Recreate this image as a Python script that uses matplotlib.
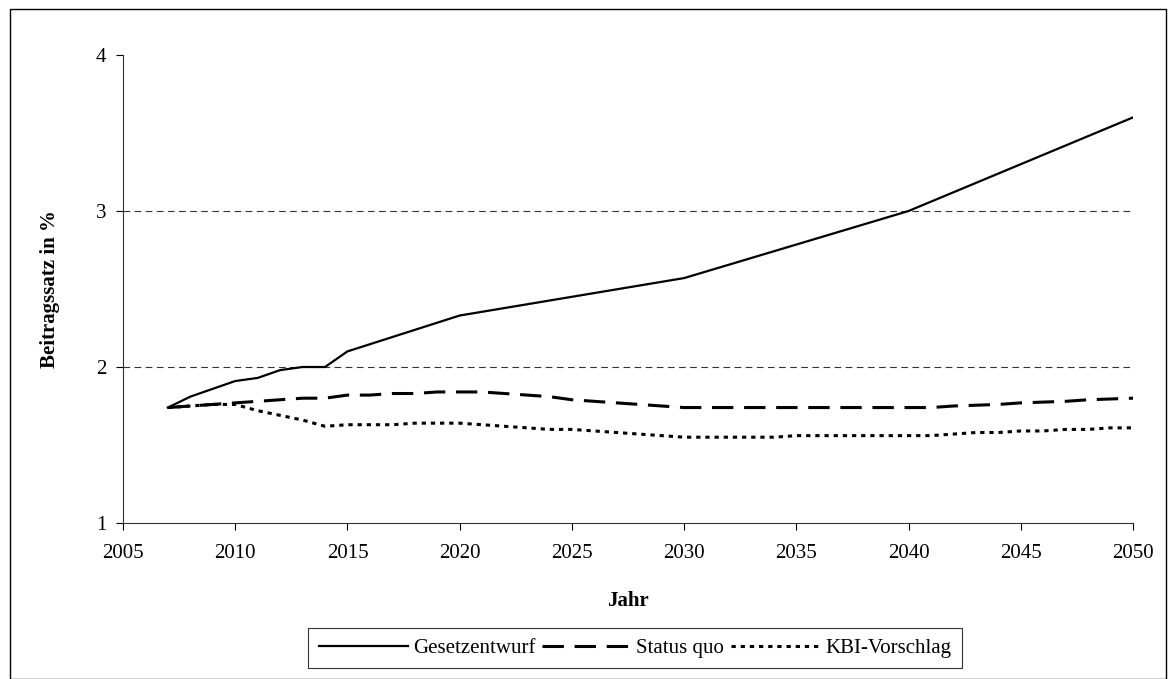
import matplotlib
matplotlib.use("Agg")
import matplotlib.pyplot as plt
from matplotlib.patches import Rectangle

# Data
years_gesetz = [2007, 2008, 2009, 2010, 2011, 2012, 2013, 2014, 2015, 2020, 2030, 2040, 2050]
gesetzentwurf = [1.74, 1.81, 1.86, 1.91, 1.93, 1.98, 2.00, 2.00, 2.10, 2.33, 2.57, 3.00, 3.60]

years = list(range(2007, 2051))
status_quo = [1.74, 1.75, 1.76, 1.77, 1.78, 1.79, 1.80, 1.80, 1.82, 1.82,
              1.83, 1.83, 1.84, 1.84, 1.84, 1.83, 1.82, 1.81, 1.79, 1.78,
              1.77, 1.76, 1.75, 1.74, 1.74, 1.74, 1.74, 1.74, 1.74, 1.74,
              1.74, 1.74, 1.74, 1.74, 1.74, 1.75, 1.755, 1.76, 1.77, 1.775,
              1.78, 1.79, 1.795, 1.80]
kbi = [1.74, 1.75, 1.76, 1.76, 1.72, 1.69, 1.66, 1.62, 1.63, 1.63,
       1.63, 1.64, 1.64, 1.64, 1.63, 1.62, 1.61, 1.60, 1.60, 1.59,
       1.58, 1.57, 1.56, 1.55, 1.55, 1.55, 1.55, 1.55, 1.56, 1.56,
       1.56, 1.56, 1.56, 1.56, 1.56, 1.57, 1.58, 1.58, 1.59, 1.59,
       1.60, 1.60, 1.61, 1.61]

x_ticks = list(range(2005, 2051, 5))
y_ticks = [1, 2, 3, 4]

plt.rcParams['font.family'] = ['Liberation Serif', 'DejaVu Serif']

fig = plt.figure(figsize=(11.76, 6.79), dpi=100)
L, R, T, B = 123, 1133, 55, 523
ax = fig.add_axes([L/1176, 1-B/679, (R-L)/1176, (B-T)/679])

ax.plot(years_gesetz, gesetzentwurf, color='black', lw=1.6, label='Gesetzentwurf')
ax.plot(years, status_quo, color='black', lw=2.2, dashes=(7, 3.5), label='Status quo')
ax.plot(years, kbi, color='black', lw=2.2, dashes=(1.4, 1.6), label='KBI-Vorschlag')

for v in [2, 3]:
    ax.axhline(v, color='#333333', lw=0.8, dashes=(6, 4), zorder=0)

ax.set_xlim(2005, 2050)
ax.set_ylim(1, 4)
ax.set_xticks(x_ticks)
ax.set_yticks(y_ticks)
ax.tick_params(direction='out', length=5, width=0.8, labelsize=15, colors='black')
ax.tick_params(axis='x', pad=10)
ax.tick_params(axis='y', pad=7)
for s in ['top', 'right']:
    ax.spines[s].set_visible(False)
for s in ['left', 'bottom']:
    ax.spines[s].set_linewidth(0.8)
    ax.spines[s].set_color('#333333')

ax.set_xlabel('Jahr', fontsize=15, fontweight='bold', labelpad=20)
ax.set_ylabel('Beitragssatz in %', fontsize=15, fontweight='bold', labelpad=26)

leg = fig.legend(loc='center', bbox_to_anchor=(635/1176, 1-648/679), ncol=3,
                 fontsize=15, frameon=True, fancybox=False, edgecolor='black',
                 handlelength=4.3, handletextpad=0.2, columnspacing=0.35,
                 borderpad=0.5)
leg.get_frame().set_linewidth(0.8)

fig.patches.append(Rectangle((10/1176, 0.0), 1156/1176, 1-9/679, transform=fig.transFigure,
                             fill=False, edgecolor='black', lw=1.0))

fig.savefig('out.png', dpi=100, facecolor='white')
